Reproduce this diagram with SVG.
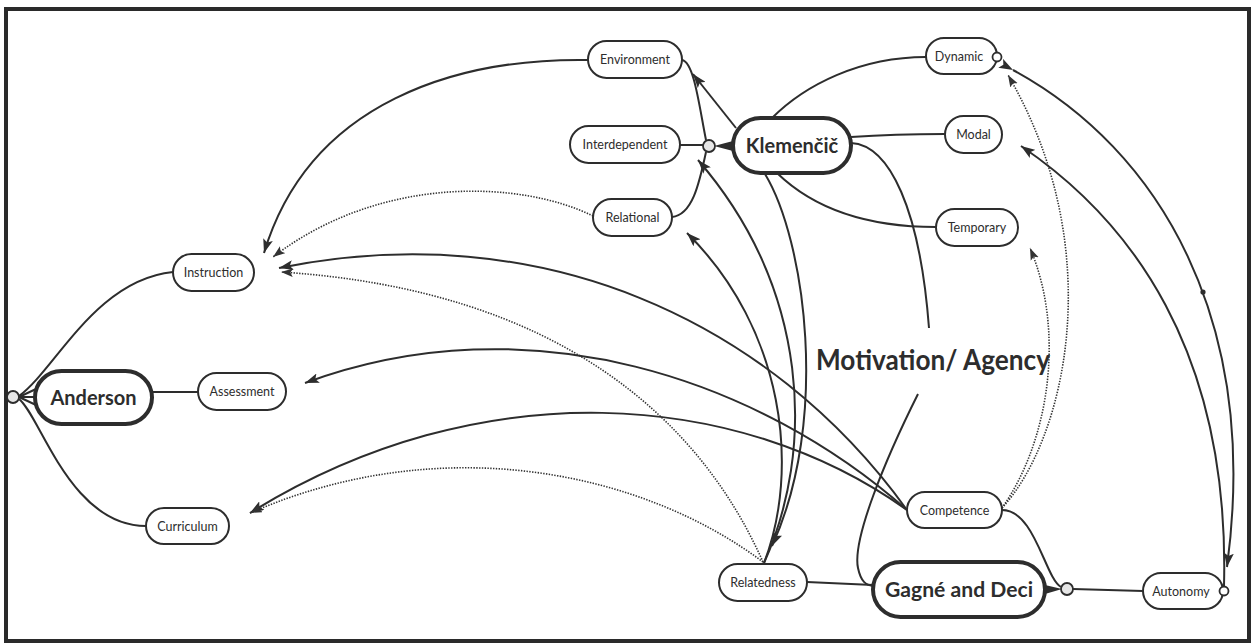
<svg xmlns="http://www.w3.org/2000/svg" width="1252" height="644" viewBox="0 0 1252 644">
  <style>
    .pill { fill: #ffffff; stroke: #2d2d2d; stroke-width: 2; }
    .main { fill: #ffffff; stroke: #2d2d2d; stroke-width: 4; }
    .lbl { font-family: Lato, "Noto Sans", sans-serif; font-size: 12.5px; fill: #2d2d2d; text-anchor: middle; }
    .big { font-family: Lato, "Noto Sans", sans-serif; font-size: 20px; font-weight: bold; fill: #2d2d2d; text-anchor: middle; }
    .edge { fill: none; stroke: #2d2d2d; stroke-width: 2; }
    .dot { fill: none; stroke: #333333; stroke-width: 1.6; stroke-dasharray: 1.4 1.4; }
    .hub { fill: #e6e6e6; stroke: #2d2d2d; stroke-width: 1.8; }
    .knob { fill: #ffffff; stroke: #2d2d2d; stroke-width: 1.8; }
  </style>
  <defs>
    <marker id="arr" viewBox="0 0 14 10" refX="14" refY="5" markerWidth="14" markerHeight="10" markerUnits="userSpaceOnUse" orient="auto">
      <path d="M0,0 L14,5 L0,10 L3,5 z" fill="#2d2d2d"/>
    </marker>
    <marker id="arrd" viewBox="0 0 14 10" refX="14" refY="5" markerWidth="12" markerHeight="9" markerUnits="userSpaceOnUse" orient="auto">
      <path d="M0,0 L14,5 L0,10 L3,5 z" fill="#333333"/>
    </marker>
  </defs>

  <rect x="0" y="0" width="1252" height="644" fill="#ffffff"/>
  <!-- outer frame -->
  <rect x="6" y="9" width="1243" height="632" fill="none" stroke="#2a2a2a" stroke-width="4"/>

  <g id="connectors">
    <!-- Anderson fan -->
    <path class="edge" d="M19,397 L36,389 M19,397 L35,397 M19,397 L36,405"/>
    <path class="edge" d="M19,396 C55,370 95,280 173,272"/>
    <path class="edge" d="M19,399 C40,415 70,526 146,526"/>
    <path class="edge" d="M152,392 L198,392"/>

    <!-- Klemenčič cluster -->
    <polygon points="714,146 733,141 733,151" fill="#2d2d2d"/>
    <path class="edge" d="M680,145 L703,145"/>
    <path class="edge" d="M682,60 C694,62 699,105 706,140"/>
    <path class="edge" d="M672,217 C692,215 699,185 706,152"/>
    <path class="edge" marker-end="url(#arr)" d="M736,128 L693,74"/>
    <path class="edge" d="M772,118 C805,85 860,57 926,57"/>
    <path class="edge" d="M851,137 C880,135 910,134 945,134"/>
    <path class="edge" d="M777,173 C810,205 860,227 936,227"/>
    <path class="edge" d="M851,143 C890,145 920,210 929,328"/>
    <path class="edge" d="M918,394 C885,460 852,540 858,568 C861,582 866,585 873,586"/>

    <!-- links into Instruction / Assessment / Curriculum -->
    <path class="edge" marker-end="url(#arr)" d="M588,60 C460,58 310,100 264,253"/>
    <path class="dot" marker-end="url(#arrd)" d="M593,216 C520,180 380,175 273,257"/>
    <path class="edge" marker-end="url(#arr)" d="M907,510 C770,320 540,215 279,268"/>
    <path class="dot" marker-end="url(#arrd)" d="M763,562 C700,420 560,290 281,272"/>
    <path class="edge" marker-end="url(#arr)" d="M907,510 C760,380 530,300 305,383"/>
    <path class="edge" marker-end="url(#arr)" d="M907,510 C740,390 480,370 250,513"/>
    <path class="dot" marker-end="url(#arrd)" d="M763,562 C640,470 440,430 250,513"/>

    <!-- Relatedness links -->
    <path class="edge" marker-end="url(#arr)" d="M764,563 C800,470 785,330 687,233"/>
    <path class="edge" marker-end="url(#arr)" d="M764,563 C815,450 810,290 698,160"/>
    <path class="edge" marker-end="url(#arr)" d="M765,174 C805,240 830,420 772,546"/>
    <path class="edge" d="M807,582 L873,585"/>

    <!-- Competence links -->
    <path class="dot" marker-end="url(#arrd)" d="M1002,508 C1050,440 1065,330 1030,248"/>
    <path class="dot" marker-end="url(#arrd)" d="M1002,508 C1065,440 1110,250 1008,75"/>
    <path class="edge" d="M1002,510 C1035,510 1045,578 1061,587"/>

    <!-- Gagné and Deci / Autonomy -->
    <polygon points="1045,585 1062,589 1045,594" fill="#2d2d2d"/>
    <path class="edge" d="M1073,589 L1143,591"/>
    <path class="edge" marker-end="url(#arr)" d="M1224,586 C1230,350 1130,220 1021,146"/>
    <path class="edge" marker-start="url(#arr)" marker-end="url(#arr)" d="M1013,70 C1160,150 1260,320 1227,567"/>
    <circle cx="1203" cy="292" r="2.6" fill="#2d2d2d"/>

    <!-- hubs and knobs -->
    <circle class="hub" cx="13" cy="397" r="6"/>
    <circle class="hub" cx="709" cy="146" r="6"/>
    <circle class="hub" cx="1067" cy="589" r="6"/>
  </g>

  <g id="node-anderson">
    <rect class="main" x="35" y="371" width="117" height="53" rx="26.5"/>
    <text class="big" x="93.5" y="404.5">Anderson</text>
  </g>
  <g id="node-instruction">
    <rect class="pill" x="173" y="254" width="81" height="37" rx="18.5"/>
    <text class="lbl" x="213.5" y="277">Instruction</text>
  </g>
  <g id="node-assessment">
    <rect class="pill" x="198" y="373" width="88" height="37" rx="18.5"/>
    <text class="lbl" x="242" y="396">Assessment</text>
  </g>
  <g id="node-curriculum">
    <rect class="pill" x="146" y="508" width="83" height="36" rx="18"/>
    <text class="lbl" x="187.5" y="530.5">Curriculum</text>
  </g>

  <g id="node-environment">
    <rect class="pill" x="588" y="41" width="94" height="37" rx="18.5"/>
    <text class="lbl" x="635" y="64">Environment</text>
  </g>
  <g id="node-interdependent">
    <rect class="pill" x="570" y="126" width="110" height="37" rx="18.5"/>
    <text class="lbl" x="625" y="149">Interdependent</text>
  </g>
  <g id="node-relational">
    <rect class="pill" x="593" y="199" width="79" height="37" rx="18.5"/>
    <text class="lbl" x="632.5" y="222">Relational</text>
  </g>
  <g id="node-klemencic">
    <rect class="main" x="733" y="118" width="118" height="55" rx="27.5"/>
    <text class="big" x="792" y="152.5">Klemenčič</text>
  </g>

  <g id="node-dynamic">
    <rect class="pill" x="926" y="38" width="71" height="36" rx="18"/>
    <text class="lbl" x="959" y="60.5">Dynamic</text>
    <circle class="knob" cx="997" cy="57" r="4.5"/>
  </g>
  <g id="node-modal">
    <rect class="pill" x="945" y="116" width="57" height="37" rx="18.5"/>
    <text class="lbl" x="973.5" y="139">Modal</text>
  </g>
  <g id="node-temporary">
    <rect class="pill" x="936" y="209" width="82" height="37" rx="18.5"/>
    <text class="lbl" x="977" y="232">Temporary</text>
  </g>

  <g id="node-motivation">
    <text x="816" y="370" font-family="Lato, 'Noto Sans', sans-serif" font-size="28" font-weight="bold" fill="#2d2d2d" textLength="234" lengthAdjust="spacingAndGlyphs">Motivation/ Agency</text>
  </g>

  <g id="node-competence">
    <rect class="pill" x="907" y="492" width="95" height="36" rx="18"/>
    <text class="lbl" x="954.5" y="514.5">Competence</text>
  </g>
  <g id="node-relatedness">
    <rect class="pill" x="719" y="564" width="88" height="37" rx="18.5"/>
    <text class="lbl" x="763" y="587">Relatedness</text>
  </g>
  <g id="node-gagne-deci">
    <rect class="main" x="873" y="562" width="172" height="55" rx="27.5"/>
    <text class="big" x="959" y="596.5" textLength="148" lengthAdjust="spacingAndGlyphs">Gagné and Deci</text>
  </g>
  <g id="node-autonomy">
    <rect class="pill" x="1143" y="573" width="80" height="36" rx="18"/>
    <text class="lbl" x="1181" y="595.5">Autonomy</text>
    <circle class="knob" cx="1224" cy="591" r="4.5"/>
  </g>
</svg>
